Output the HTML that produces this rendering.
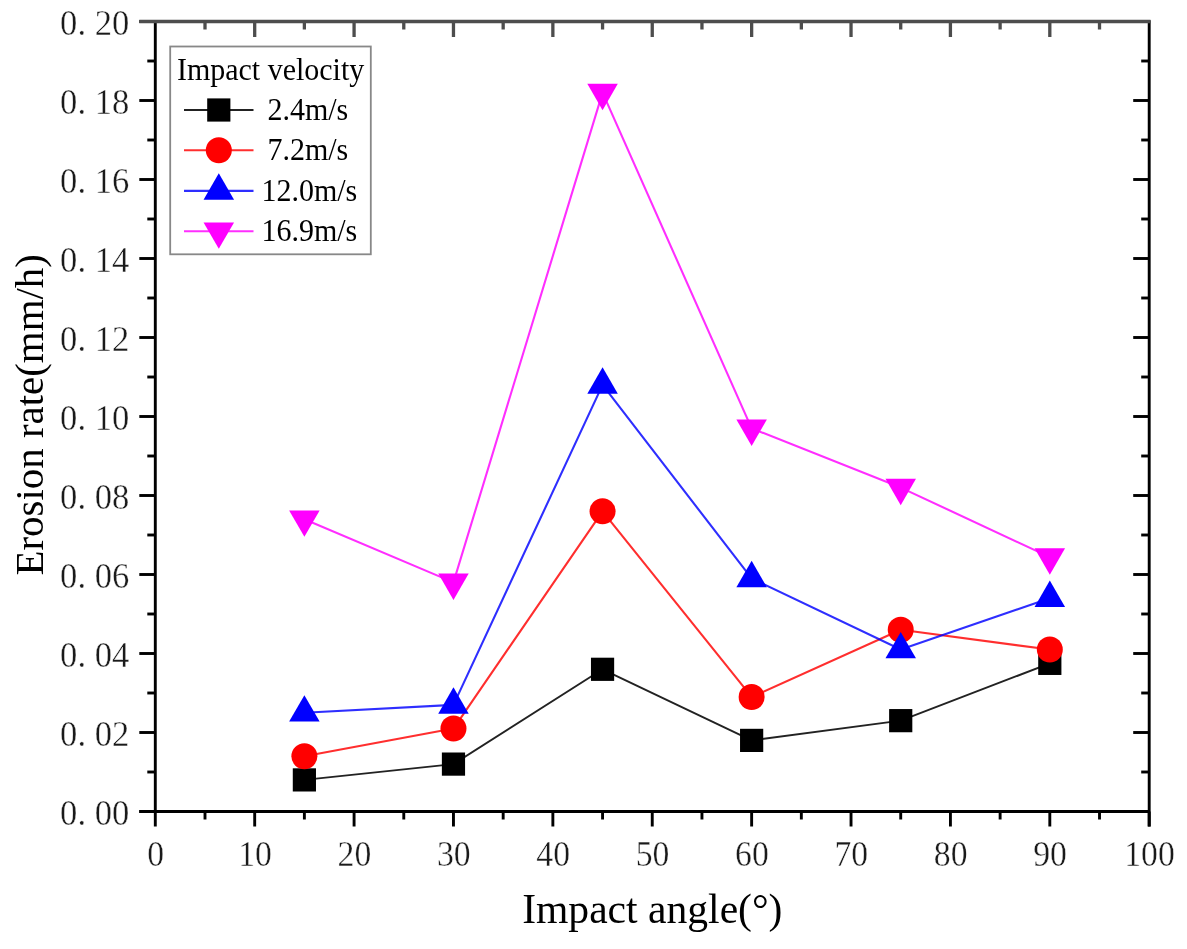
<!DOCTYPE html><html><head><meta charset="utf-8"><style>html,body{margin:0;padding:0;background:#fff;}svg{display:block;}text{font-family:"Liberation Serif",serif;fill:#000;}.tl{font-size:35.5px;fill:#1a1a1a;stroke:#fff;stroke-width:0.35px;paint-order:normal;}</style></head><body>
<svg style="will-change:transform" width="1187" height="949" viewBox="0 0 1187 949">
<rect width="1187" height="949" fill="#fff"/>
<polyline points="304.38,779.90 453.47,764.10 602.56,669.30 751.64,740.40 900.72,720.65 1049.81,663.38" fill="none" stroke="#222" stroke-width="1.9" stroke-linejoin="round"/>
<rect x="292.78" y="768.30" width="23.2" height="23.2" fill="#000000"/>
<rect x="441.87" y="752.50" width="23.2" height="23.2" fill="#000000"/>
<rect x="590.96" y="657.70" width="23.2" height="23.2" fill="#000000"/>
<rect x="740.04" y="728.80" width="23.2" height="23.2" fill="#000000"/>
<rect x="889.12" y="709.05" width="23.2" height="23.2" fill="#000000"/>
<rect x="1038.21" y="651.77" width="23.2" height="23.2" fill="#000000"/>
<polyline points="304.38,756.20 453.47,728.55 602.56,511.30 751.64,696.95 900.72,629.80 1049.81,649.55" fill="none" stroke="#ff0000" stroke-width="2.1" stroke-opacity="0.82" stroke-linejoin="round"/>
<circle cx="304.38" cy="756.20" r="13.0" fill="#ff0000"/>
<circle cx="453.47" cy="728.55" r="13.0" fill="#ff0000"/>
<circle cx="602.56" cy="511.30" r="13.0" fill="#ff0000"/>
<circle cx="751.64" cy="696.95" r="13.0" fill="#ff0000"/>
<circle cx="900.72" cy="629.80" r="13.0" fill="#ff0000"/>
<circle cx="1049.81" cy="649.55" r="13.0" fill="#ff0000"/>
<polyline points="304.38,712.75 453.47,704.85 602.56,384.90 751.64,578.45 900.72,649.55 1049.81,598.20" fill="none" stroke="#0000ff" stroke-width="2.1" stroke-opacity="0.82" stroke-linejoin="round"/>
<polygon points="304.38,695.15 319.63,721.55 289.13,721.55" fill="#0000ff"/>
<polygon points="453.47,687.25 468.72,713.65 438.22,713.65" fill="#0000ff"/>
<polygon points="602.56,367.30 617.81,393.70 587.31,393.70" fill="#0000ff"/>
<polygon points="751.64,560.85 766.89,587.25 736.39,587.25" fill="#0000ff"/>
<polygon points="900.72,631.95 915.97,658.35 885.47,658.35" fill="#0000ff"/>
<polygon points="1049.81,580.60 1065.06,607.00 1034.56,607.00" fill="#0000ff"/>
<polyline points="304.38,519.20 453.47,582.40 602.56,92.60 751.64,428.35 900.72,487.60 1049.81,557.12" fill="none" stroke="#ff00ff" stroke-width="2.1" stroke-opacity="0.82" stroke-linejoin="round"/>
<polygon points="289.13,510.40 319.63,510.40 304.38,536.80" fill="#ff00ff"/>
<polygon points="438.22,573.60 468.72,573.60 453.47,600.00" fill="#ff00ff"/>
<polygon points="587.31,83.80 617.81,83.80 602.56,110.20" fill="#ff00ff"/>
<polygon points="736.39,419.55 766.89,419.55 751.64,445.95" fill="#ff00ff"/>
<polygon points="885.47,478.80 915.97,478.80 900.72,505.20" fill="#ff00ff"/>
<polygon points="1034.56,548.32 1065.06,548.32 1049.81,574.72" fill="#ff00ff"/>
<g stroke="#000" stroke-width="2.9" fill="none" stroke-linecap="butt">
<line x1="155.3" y1="20.2" x2="155.3" y2="812.8"/>
<line x1="1149.2" y1="20.2" x2="1149.2" y2="826.5"/>
<line x1="139.3" y1="811.5" x2="1149.2" y2="811.5"/>
<line x1="139.3" y1="811.50" x2="155.3" y2="811.50"/>
<line x1="1133.2" y1="811.50" x2="1149.2" y2="811.50"/>
<line x1="147.3" y1="772.00" x2="155.3" y2="772.00"/>
<line x1="1141.2" y1="772.00" x2="1149.2" y2="772.00"/>
<line x1="139.3" y1="732.50" x2="155.3" y2="732.50"/>
<line x1="1133.2" y1="732.50" x2="1149.2" y2="732.50"/>
<line x1="147.3" y1="693.00" x2="155.3" y2="693.00"/>
<line x1="1141.2" y1="693.00" x2="1149.2" y2="693.00"/>
<line x1="139.3" y1="653.50" x2="155.3" y2="653.50"/>
<line x1="1133.2" y1="653.50" x2="1149.2" y2="653.50"/>
<line x1="147.3" y1="614.00" x2="155.3" y2="614.00"/>
<line x1="1141.2" y1="614.00" x2="1149.2" y2="614.00"/>
<line x1="139.3" y1="574.50" x2="155.3" y2="574.50"/>
<line x1="1133.2" y1="574.50" x2="1149.2" y2="574.50"/>
<line x1="147.3" y1="535.00" x2="155.3" y2="535.00"/>
<line x1="1141.2" y1="535.00" x2="1149.2" y2="535.00"/>
<line x1="139.3" y1="495.50" x2="155.3" y2="495.50"/>
<line x1="1133.2" y1="495.50" x2="1149.2" y2="495.50"/>
<line x1="147.3" y1="456.00" x2="155.3" y2="456.00"/>
<line x1="1141.2" y1="456.00" x2="1149.2" y2="456.00"/>
<line x1="139.3" y1="416.50" x2="155.3" y2="416.50"/>
<line x1="1133.2" y1="416.50" x2="1149.2" y2="416.50"/>
<line x1="147.3" y1="377.00" x2="155.3" y2="377.00"/>
<line x1="1141.2" y1="377.00" x2="1149.2" y2="377.00"/>
<line x1="139.3" y1="337.50" x2="155.3" y2="337.50"/>
<line x1="1133.2" y1="337.50" x2="1149.2" y2="337.50"/>
<line x1="147.3" y1="298.00" x2="155.3" y2="298.00"/>
<line x1="1141.2" y1="298.00" x2="1149.2" y2="298.00"/>
<line x1="139.3" y1="258.50" x2="155.3" y2="258.50"/>
<line x1="1133.2" y1="258.50" x2="1149.2" y2="258.50"/>
<line x1="147.3" y1="219.00" x2="155.3" y2="219.00"/>
<line x1="1141.2" y1="219.00" x2="1149.2" y2="219.00"/>
<line x1="139.3" y1="179.50" x2="155.3" y2="179.50"/>
<line x1="1133.2" y1="179.50" x2="1149.2" y2="179.50"/>
<line x1="147.3" y1="140.00" x2="155.3" y2="140.00"/>
<line x1="1141.2" y1="140.00" x2="1149.2" y2="140.00"/>
<line x1="139.3" y1="100.50" x2="155.3" y2="100.50"/>
<line x1="1133.2" y1="100.50" x2="1149.2" y2="100.50"/>
<line x1="147.3" y1="61.00" x2="155.3" y2="61.00"/>
<line x1="1141.2" y1="61.00" x2="1149.2" y2="61.00"/>
<line x1="139.3" y1="21.50" x2="155.3" y2="21.50"/>
<line x1="1133.2" y1="21.50" x2="1149.2" y2="21.50"/>
<line x1="155.30" y1="811.5" x2="155.30" y2="826.5"/>
<line x1="205.00" y1="811.5" x2="205.00" y2="819.5"/>
<line x1="254.69" y1="811.5" x2="254.69" y2="826.5"/>
<line x1="304.38" y1="811.5" x2="304.38" y2="819.5"/>
<line x1="354.08" y1="811.5" x2="354.08" y2="826.5"/>
<line x1="403.78" y1="811.5" x2="403.78" y2="819.5"/>
<line x1="453.47" y1="811.5" x2="453.47" y2="826.5"/>
<line x1="503.17" y1="811.5" x2="503.17" y2="819.5"/>
<line x1="552.86" y1="811.5" x2="552.86" y2="826.5"/>
<line x1="602.56" y1="811.5" x2="602.56" y2="819.5"/>
<line x1="652.25" y1="811.5" x2="652.25" y2="826.5"/>
<line x1="701.95" y1="811.5" x2="701.95" y2="819.5"/>
<line x1="751.64" y1="811.5" x2="751.64" y2="826.5"/>
<line x1="801.34" y1="811.5" x2="801.34" y2="819.5"/>
<line x1="851.03" y1="811.5" x2="851.03" y2="826.5"/>
<line x1="900.72" y1="811.5" x2="900.72" y2="819.5"/>
<line x1="950.42" y1="811.5" x2="950.42" y2="826.5"/>
<line x1="1000.12" y1="811.5" x2="1000.12" y2="819.5"/>
<line x1="1049.81" y1="811.5" x2="1049.81" y2="826.5"/>
<line x1="1099.51" y1="811.5" x2="1099.51" y2="819.5"/>
<line x1="1149.20" y1="811.5" x2="1149.20" y2="826.5"/>
</g>
<g stroke="#4d4d4d" stroke-width="3.3" fill="none">
<line x1="139.3" y1="21.5" x2="1150.5" y2="21.5"/>
<line x1="205.00" y1="21.5" x2="205.00" y2="29.5"/>
<line x1="254.69" y1="21.5" x2="254.69" y2="37.0"/>
<line x1="304.38" y1="21.5" x2="304.38" y2="29.5"/>
<line x1="354.08" y1="21.5" x2="354.08" y2="37.0"/>
<line x1="403.78" y1="21.5" x2="403.78" y2="29.5"/>
<line x1="453.47" y1="21.5" x2="453.47" y2="37.0"/>
<line x1="503.17" y1="21.5" x2="503.17" y2="29.5"/>
<line x1="552.86" y1="21.5" x2="552.86" y2="37.0"/>
<line x1="602.56" y1="21.5" x2="602.56" y2="29.5"/>
<line x1="652.25" y1="21.5" x2="652.25" y2="37.0"/>
<line x1="701.95" y1="21.5" x2="701.95" y2="29.5"/>
<line x1="751.64" y1="21.5" x2="751.64" y2="37.0"/>
<line x1="801.34" y1="21.5" x2="801.34" y2="29.5"/>
<line x1="851.03" y1="21.5" x2="851.03" y2="37.0"/>
<line x1="900.72" y1="21.5" x2="900.72" y2="29.5"/>
<line x1="950.42" y1="21.5" x2="950.42" y2="37.0"/>
<line x1="1000.12" y1="21.5" x2="1000.12" y2="29.5"/>
<line x1="1049.81" y1="21.5" x2="1049.81" y2="37.0"/>
<line x1="1099.51" y1="21.5" x2="1099.51" y2="29.5"/>
</g>
<text transform="translate(129.3,825.10) scale(0.975,1)" class="tl" text-anchor="end" xml:space="preserve">0. 00</text>
<text transform="translate(129.3,746.10) scale(0.975,1)" class="tl" text-anchor="end" xml:space="preserve">0. 02</text>
<text transform="translate(129.3,667.10) scale(0.975,1)" class="tl" text-anchor="end" xml:space="preserve">0. 04</text>
<text transform="translate(129.3,588.10) scale(0.975,1)" class="tl" text-anchor="end" xml:space="preserve">0. 06</text>
<text transform="translate(129.3,509.10) scale(0.975,1)" class="tl" text-anchor="end" xml:space="preserve">0. 08</text>
<text transform="translate(129.3,430.10) scale(0.975,1)" class="tl" text-anchor="end" xml:space="preserve">0. 10</text>
<text transform="translate(129.3,351.10) scale(0.975,1)" class="tl" text-anchor="end" xml:space="preserve">0. 12</text>
<text transform="translate(129.3,272.10) scale(0.975,1)" class="tl" text-anchor="end" xml:space="preserve">0. 14</text>
<text transform="translate(129.3,193.10) scale(0.975,1)" class="tl" text-anchor="end" xml:space="preserve">0. 16</text>
<text transform="translate(129.3,114.10) scale(0.975,1)" class="tl" text-anchor="end" xml:space="preserve">0. 18</text>
<text transform="translate(129.3,35.10) scale(0.975,1)" class="tl" text-anchor="end" xml:space="preserve">0. 20</text>
<text transform="translate(155.60,865.6) scale(0.95,1)" class="tl" text-anchor="middle">0</text>
<text transform="translate(254.99,865.6) scale(0.95,1)" class="tl" text-anchor="middle">10</text>
<text transform="translate(354.38,865.6) scale(0.95,1)" class="tl" text-anchor="middle">20</text>
<text transform="translate(453.77,865.6) scale(0.95,1)" class="tl" text-anchor="middle">30</text>
<text transform="translate(553.16,865.6) scale(0.95,1)" class="tl" text-anchor="middle">40</text>
<text transform="translate(652.55,865.6) scale(0.95,1)" class="tl" text-anchor="middle">50</text>
<text transform="translate(751.94,865.6) scale(0.95,1)" class="tl" text-anchor="middle">60</text>
<text transform="translate(851.33,865.6) scale(0.95,1)" class="tl" text-anchor="middle">70</text>
<text transform="translate(950.72,865.6) scale(0.95,1)" class="tl" text-anchor="middle">80</text>
<text transform="translate(1050.11,865.6) scale(0.95,1)" class="tl" text-anchor="middle">90</text>
<text transform="translate(1149.50,865.6) scale(0.95,1)" class="tl" text-anchor="middle">100</text>
<text x="652.3" y="922.5" font-size="41.6" text-anchor="middle">Impact angle(°)</text>
<text transform="translate(42.7,414.8) rotate(-90)" x="0" y="0" font-size="40.9" text-anchor="middle">Erosion rate(mm/h)</text>
<rect x="170.2" y="46.5" width="200.6" height="207.8" fill="#fff" stroke="#888" stroke-width="1.8"/>
<text transform="translate(176.9,79.6) scale(1,1.05)" font-size="30">Impact velocity</text>
<line x1="184" y1="110.0" x2="253.5" y2="110.0" stroke="#222" stroke-width="1.9"/>
<rect x="207.20" y="98.40" width="23.2" height="23.2" fill="#000000"/>
<text transform="translate(267.5,119.6) scale(1,1.07)" font-size="30">2.4m/s</text>
<line x1="184" y1="150.3" x2="253.5" y2="150.3" stroke="#ff0000" stroke-width="2.1" stroke-opacity="0.82"/>
<circle cx="218.80" cy="150.30" r="13.0" fill="#ff0000"/>
<text transform="translate(267.5,159.9) scale(1,1.07)" font-size="30">7.2m/s</text>
<line x1="184" y1="190.9" x2="253.5" y2="190.9" stroke="#0000ff" stroke-width="2.1" stroke-opacity="0.82"/>
<polygon points="218.80,173.30 234.05,199.70 203.55,199.70" fill="#0000ff"/>
<text transform="translate(261.5,200.5) scale(1,1.07)" font-size="30">12.0m/s</text>
<line x1="184" y1="231.2" x2="253.5" y2="231.2" stroke="#ff00ff" stroke-width="2.1" stroke-opacity="0.82"/>
<polygon points="203.55,222.40 234.05,222.40 218.80,248.80" fill="#ff00ff"/>
<text transform="translate(261.5,240.8) scale(1,1.07)" font-size="30">16.9m/s</text>
</svg></body></html>
